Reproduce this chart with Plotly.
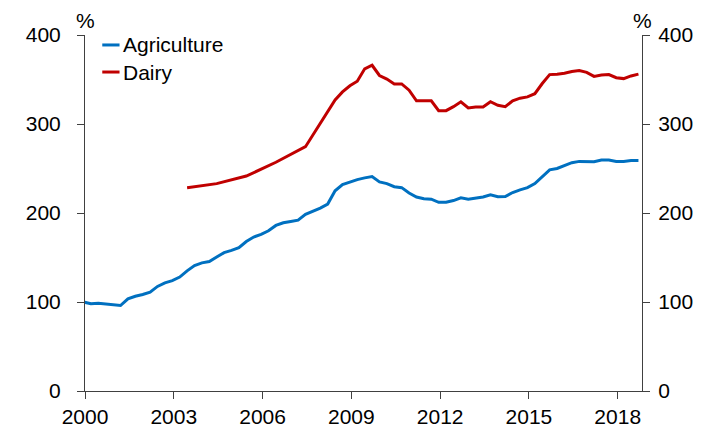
import plotly.graph_objects as go

# quarterly observations, decimal years
quarters = [1999.95 + 0.25 * i for i in range(76)]

agriculture = [
    100, 98, 98.5, 97.5, 96.5, 96, 103.5, 106.5, 108.5, 111,
    117.5, 121.5, 124, 128, 135, 141, 144, 145.5, 150.5, 155.5,
    158, 161, 168, 173, 176, 180, 186, 189, 190.5, 192,
    198.5, 202, 205.5, 210, 225, 232, 235, 237.5, 239.5, 241,
    235, 233, 229.5, 228.5, 222.5, 218, 216, 215.5, 212, 212,
    214, 217, 215.5, 216.5, 218, 220.5, 218.3, 218.5, 223, 226,
    228.5, 233, 241, 248.5, 250, 253, 256.5, 258, 258, 257.5,
    259.5, 259.5, 258, 258, 259, 259,
]

# dairy is annual until 2007, quarterly afterwards (None = no observation)
dairy = [None] * 14 + [
    228.5, None, None, None, 233, None, None, None, 241.5, None,
    None, None, 257, None, None, None, 274.5, None, None, None,
    327, 336, 343, 348, 362, 366, 354.5, 350.5, 345, 345,
    338, 326, 326, 326, 315, 315, 319.5, 325, 318, 319,
    319, 325, 321, 319.5, 326, 329, 330.5, 334, 345.5, 355.5,
    356, 357, 359, 360, 358, 353.5, 355, 355.5, 352, 351,
    354, 356,
]

year_ticks = [2000, 2003, 2006, 2009, 2012, 2015, 2018]
pct_ticks = [0, 100, 200, 300, 400]

series_names = ["Agriculture", "Dairy"]
series_colors = ["#0070C0", "#C00000"]

font = dict(family="Liberation Sans, Arial, sans-serif", size=21, color="#000000")
axis_col = "#404040"

fig = go.Figure()
fig.add_trace(go.Scatter(x=quarters, y=agriculture, name=series_names[0], mode="lines",
                         line=dict(color=series_colors[0], width=3)))
fig.add_trace(go.Scatter(x=quarters, y=dairy, name=series_names[1], mode="lines", connectgaps=True,
                         line=dict(color=series_colors[1], width=3), yaxis="y2"))

yax = dict(range=[0, 400], tickvals=pct_ticks, showgrid=False, zeroline=False,
           showline=True, linecolor=axis_col, linewidth=1, ticks="outside",
           ticklen=7, tickcolor=axis_col, tickfont=font, automargin=False)

# page body adds an 8px offset, so the figure is 8px smaller than the window
fig.update_layout(
    width=694, height=420,
    margin=dict(l=77, r=60, t=27, b=37, autoexpand=False),
    paper_bgcolor="white", plot_bgcolor="white",
    font=font,
    xaxis=dict(range=[2000, 2018.82], tickvals=year_ticks, showgrid=False, zeroline=False,
               showline=True, linecolor=axis_col, linewidth=1, ticks="outside",
               ticklen=7, tickcolor=axis_col, tickfont=font, automargin=False),
    yaxis=dict(yax, ticklabelstandoff=12),
    yaxis2=dict(yax, overlaying="y", side="right", ticklabelstandoff=4),
    showlegend=False,
)

# short-line legend, drawn by hand (plotly's legend symbol is too long)
for k, (name, col) in enumerate(zip(series_names, series_colors)):
    ly = 0.972 - 0.076 * k
    fig.add_shape(type="line", xref="paper", yref="paper", x0=0.031, x1=0.062, y0=ly, y1=ly,
                  line=dict(color=col, width=3))
    fig.add_annotation(text=name, x=0.064, y=ly, xref="paper", yref="paper", xanchor="left",
                       yanchor="middle", showarrow=False, font=font)

fig.add_annotation(text="%", x=0, y=1, xref="paper", yref="paper", xanchor="center",
                   yanchor="bottom", yshift=1, showarrow=False, font=font)
fig.add_annotation(text="%", x=1, y=1, xref="paper", yref="paper", xanchor="center",
                   yanchor="bottom", yshift=1, showarrow=False, font=font)

fig.write_html("out.html")
